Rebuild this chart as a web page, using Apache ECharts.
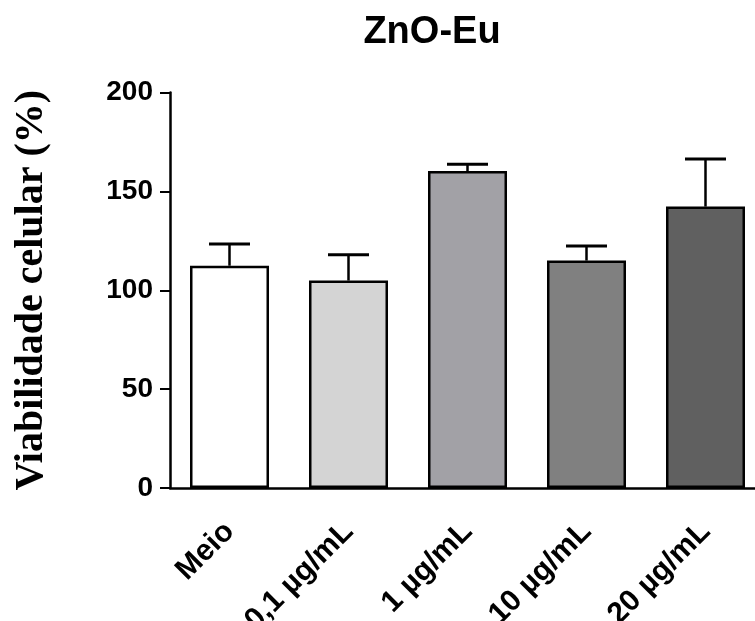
<!DOCTYPE html>
<html>
<head>
<meta charset="utf-8">
<script src="https://cdn.jsdelivr.net/npm/echarts@6/dist/echarts.min.js"></script>
<style>html,body{margin:0;padding:0;background:#fff}#c{width:755px;height:621px}</style>
</head>
<body>
<div id="c"></div>
<script>
const categories = ['Meio', '0,1 µg/mL', '1 µg/mL', '10 µg/mL', '20 µg/mL'];
const means = [112.4, 104.9, 160.3, 115.0, 142.3];
const errors = [11.0, 13.1, 3.4, 7.4, 24.1];
const barColors = ['#ffffff', '#d4d4d4', '#a2a1a6', '#808080', '#606060'];
const yTicks = [0, 50, 100, 150, 200];

const chart = echarts.init(document.getElementById('c'));
chart.setOption({
  animation: false,
  backgroundColor: '#ffffff',
  title: {
    text: 'ZnO-Eu',
    left: 427,
    textAlign: 'center',
    top: 9,
    textStyle: { fontFamily: 'Liberation Sans', fontWeight: 'bold', fontSize: 38, color: '#000' }
  },
  grid: { left: 170, width: 595, top: 92.5, bottom: 133, containLabel: false, outerBoundsMode: 'none' },
  xAxis: {
    type: 'category',
    data: categories,
    axisLine: { lineStyle: { color: '#000', width: 2.5 } },
    axisTick: { alignWithLabel: true, length: 10, lineStyle: { color: '#000', width: 2 } },
    axisLabel: {
      rotate: 45, interval: 0, margin: 39, color: '#000',
      fontFamily: 'Liberation Sans', fontWeight: 'bold', fontSize: 30
    }
  },
  yAxis: {
    type: 'value',
    min: yTicks[0], max: yTicks[yTicks.length - 1], interval: 50,
    name: 'Viabilidade celular (%)',
    nameLocation: 'middle',
    nameGap: 118,
    nameTextStyle: { fontFamily: 'Liberation Serif', fontWeight: 'bold', fontSize: 40, color: '#000' },
    splitLine: { show: false },
    axisLine: { show: true, lineStyle: { color: '#000', width: 2.5 } },
    axisTick: { show: true, length: 10, lineStyle: { color: '#000', width: 2 } },
    axisLabel: { margin: 17, color: '#000', fontFamily: 'Liberation Sans', fontWeight: 'bold', fontSize: 28 }
  },
  series: [
    {
      type: 'bar',
      barWidth: 79,
      data: means.map((v, i) => ({
        value: v,
        itemStyle: { color: barColors[i], borderColor: '#000', borderWidth: 2.5 }
      })),
      z: 2
    },
    {
      type: 'custom',
      z: 3,
      data: means.map((v, i) => [i, v, v + errors[i]]),
      renderItem: function (params, api) {
        const p0 = api.coord([api.value(0), api.value(1)]);
        const p1 = api.coord([api.value(0), api.value(2)]);
        const half = 20.5;
        return {
          type: 'group',
          children: [
            { type: 'line', shape: { x1: p0[0], y1: p0[1], x2: p1[0], y2: p1[1] }, style: { stroke: '#000', lineWidth: 2.5 } },
            { type: 'line', shape: { x1: p1[0] - half, y1: p1[1], x2: p1[0] + half, y2: p1[1] }, style: { stroke: '#000', lineWidth: 3 } }
          ]
        };
      }
    }
  ]
});
</script>
</body>
</html>
